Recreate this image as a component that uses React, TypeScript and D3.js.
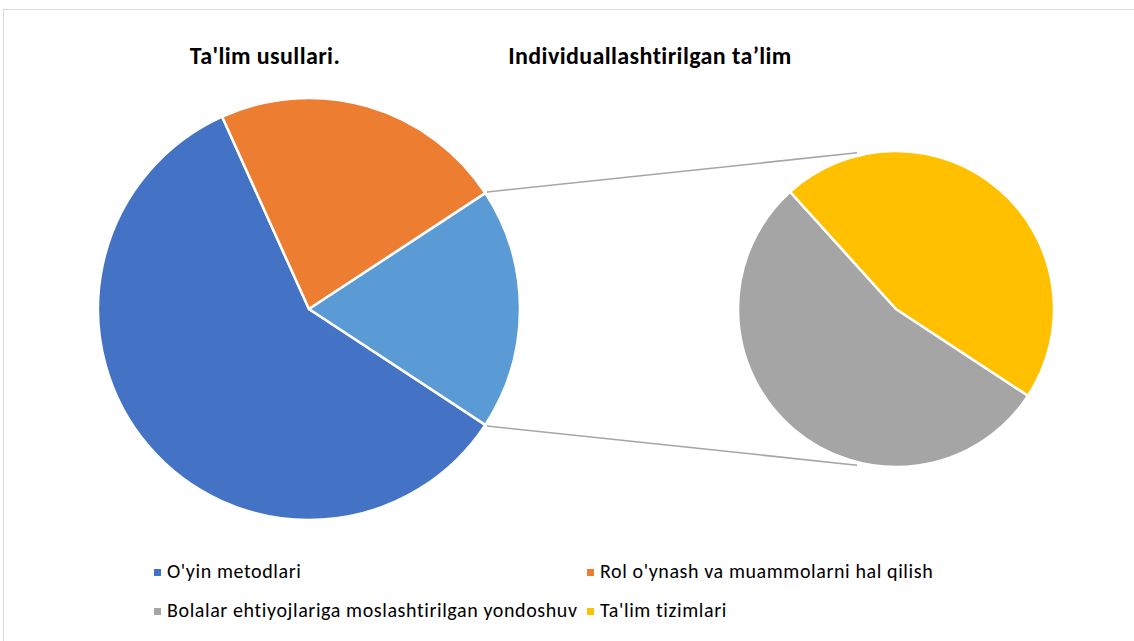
import React from 'react';
import * as d3 from 'd3';

// main pie: two named slices plus the aggregated "other" slice
const mainCategories = ["O'yin metodlari", "Rol o'ynash va muammolarni hal qilish"];
const mainValues = [59, 22.5];
const mainColors = ['#4472C4', '#ED7D31'];
const otherColor = '#5B9BD5';

// secondary pie: breakdown of the "other" slice
const secondCategories = ['Bolalar ehtiyojlariga moslashtirilgan yondoshuv', "Ta'lim tizimlari"];
const secondValues = [10, 8.5];
const secondColors = ['#A5A5A5', '#FFC000'];

const titles = ["Ta'lim usullari.", 'Individuallashtirilgan ta’lim'];

const WIDTH = 1134;
const HEIGHT = 641;
const FONT = 'Carlito, Calibri, Lato, sans-serif';

type Slice = { name: string; value: number; color: string };

export default function App()
{
    const mainCx = 309, mainCy = 309, mainR = 211;
    const secCx = 896, secCy = 309, secR = 158;

    const otherTotal = d3.sum(secondValues);
    const total = d3.sum(mainValues) + otherTotal;

    const mainData: Slice[] = mainCategories.map((name, i) => ({ name, value: mainValues[i], color: mainColors[i] }));
    mainData.push({ name: 'other', value: otherTotal, color: otherColor });

    // rotate so the "other" slice is centred on the right-hand side
    const otherSpan = (otherTotal / total) * 2 * Math.PI;
    const mainStart = Math.PI / 2 + otherSpan / 2;
    const mainArcs = d3.pie<Slice>().sort(null).value((d) => d.value)
        .startAngle(mainStart).endAngle(mainStart + 2 * Math.PI)(mainData);

    const otherArc = mainArcs[mainArcs.length - 1];
    const secStart = otherArc.endAngle;
    const secData: Slice[] = secondCategories.map((name, i) => ({ name, value: secondValues[i], color: secondColors[i] }));
    const secArcs = d3.pie<Slice>().sort(null).value((d) => d.value)
        .startAngle(secStart).endAngle(secStart + 2 * Math.PI)(secData);

    const mainArcGen = d3.arc<d3.PieArcDatum<Slice>>().innerRadius(0).outerRadius(mainR);
    const secArcGen = d3.arc<d3.PieArcDatum<Slice>>().innerRadius(0).outerRadius(secR);

    // connector lines from the "other" slice edges to the secondary pie
    const polar = (cx: number, cy: number, r: number, a: number) => [cx + r * Math.sin(a), cy - r * Math.cos(a)];
    const tilt = (14 * Math.PI) / 180;
    const topFrom = polar(mainCx, mainCy, mainR + 2, otherArc.startAngle + 2 * Math.PI);
    const botFrom = polar(mainCx, mainCy, mainR + 2, otherArc.endAngle);
    const topTo = polar(secCx, secCy, secR + 3, -tilt);
    const botTo = polar(secCx, secCy, secR + 3, Math.PI + tilt);

    const legendItems = [
        { name: mainCategories[0], color: mainColors[0] },
        { name: mainCategories[1], color: mainColors[1] },
        { name: secondCategories[0], color: secondColors[0] },
        { name: secondCategories[1], color: secondColors[1] },
    ];
    const legendCols = [154, 587];
    const legendRows = [578, 617];

    return (
        <svg width={ WIDTH } height={ HEIGHT } style={ { position: 'absolute', left: 0, top: 0 } } fontFamily={ FONT }>
            <rect x={ 3.5 } y={ 9.5 } width={ WIDTH + 10 } height={ HEIGHT + 10 } fill="#fff" stroke="#D9D9D9" />

            <text x={ 265 } y={ 64 } textAnchor="middle" fontWeight="bold" fontSize={ 24 } letterSpacing={ 0.4 } fill="#000">{ titles[0] }</text>
            <text x={ 650 } y={ 64 } textAnchor="middle" fontWeight="bold" fontSize={ 24 } letterSpacing={ 0.4 } fill="#000">{ titles[1] }</text>

            <line x1={ topFrom[0] } y1={ topFrom[1] } x2={ topTo[0] } y2={ topTo[1] } stroke="#A5A5A5" strokeWidth={ 1.5 } />
            <line x1={ botFrom[0] } y1={ botFrom[1] } x2={ botTo[0] } y2={ botTo[1] } stroke="#A5A5A5" strokeWidth={ 1.5 } />

            <g transform={ `translate(${ mainCx },${ mainCy })` }>
                { mainArcs.map((a, i) => (
                    <path key={ i } d={ mainArcGen(a) || '' } fill={ a.data.color } stroke="#fff" strokeWidth={ 2.5 } strokeLinejoin="round" />
                )) }
            </g>
            <g transform={ `translate(${ secCx },${ secCy })` }>
                { secArcs.map((a, i) => (
                    <path key={ i } d={ secArcGen(a) || '' } fill={ a.data.color } stroke="#fff" strokeWidth={ 2.5 } strokeLinejoin="round" />
                )) }
            </g>

            { legendItems.map((item, i) =>
            {
                const x = legendCols[i % 2];
                const y = legendRows[Math.floor(i / 2)];
                return (
                    <g key={ i }>
                        <rect x={ x } y={ y - 9 } width={ 7 } height={ 7 } fill={ item.color } />
                        <text x={ x + 13 } y={ y } fontSize={ 20 } letterSpacing={ 0.6 } fill="#000">{ item.name }</text>
                    </g>
                );
            }) }
        </svg>
    );
}
